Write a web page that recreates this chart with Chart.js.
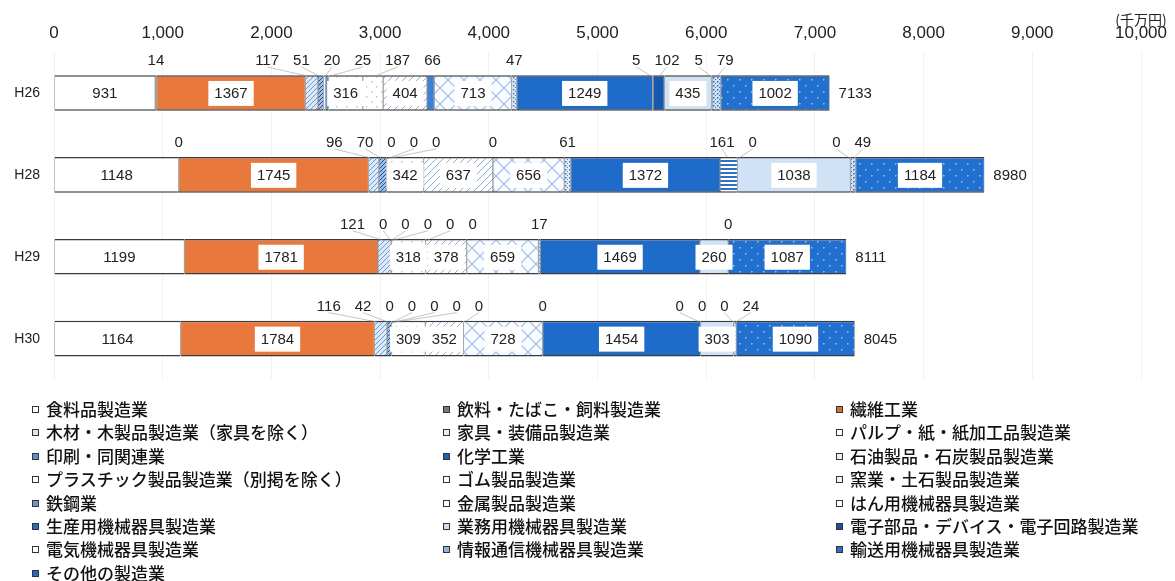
<!DOCTYPE html>
<html lang="ja">
<head>
<meta charset="utf-8">
<title>業種別 製造業</title>
<script src="https://cdn.jsdelivr.net/npm/chart.js@4.4.1/dist/chart.umd.min.js"></script>
<style>
  body { margin: 0; background: #fff; }
  #wrap { position: relative; width: 1175px; height: 581px; overflow: hidden; }
  #chartBox { position: absolute; left: 0; top: 0; width: 1175px; height: 402px; }
  #legend { position: absolute; left: 0; top: 397px; width: 1175px; height: 184px;
            font-family: "Noto Sans CJK JP", sans-serif; font-size: 17px; font-weight: 500; color: #111; }
  .item { position: absolute; white-space: nowrap; line-height: 24px; }
  .mark { display: inline-block; width: 5px; height: 5px; border: 1px solid #333;
          margin-right: 7px; vertical-align: 3px; }
</style>
</head>
<body>
<div id="wrap">
  <div id="chartBox"><canvas id="industryChart"></canvas></div>
  <div id="legend"></div>
</div>
<script>
// years (rows) and totals printed at the end of each bar
const years = ['H26', 'H28', 'H29', 'H30'];
const totals = [7133, 8980, 8111, 8045];

// industries, in stacking / legend order
const categories = [
    '食料品製造業', '飲料・たばこ・飼料製造業', '繊維工業',
    '木材・木製品製造業（家具を除く）', '家具・装備品製造業', 'パルプ・紙・紙加工品製造業',
    '印刷・同関連業', '化学工業', '石油製品・石炭製品製造業',
    'プラスチック製品製造業（別掲を除く）', 'ゴム製品製造業', '窯業・土石製品製造業',
    '鉄鋼業', '金属製品製造業', 'はん用機械器具製造業',
    '生産用機械器具製造業', '業務用機械器具製造業', '電子部品・デバイス・電子回路製造業',
    '電気機械器具製造業', '情報通信機械器具製造業', '輸送用機械器具製造業',
    'その他の製造業'
];

// values in 千万円, one entry per year (null = not shown)
const shokuryo = [931, 1148, 1199, 1164];
const inryo    = [14, 0, null, null];
const seni     = [1367, 1745, 1781, 1784];
const mokuzai  = [117, 96, 121, 116];
const kagu     = [51, 70, 0, 42];
const pulp     = [20, 0, 0, 0];
const insatsu  = [25, 0, 0, 0];
const kagaku   = [null, 0, null, 0];
const sekiyu   = [null, null, null, 0];
const plastic  = [316, 342, 318, 309];
const gomu     = [187, null, 0, null];
const yogyo    = [404, 637, 378, 352];
const tekko    = [66, 0, 0, 0];
const kinzoku  = [713, 656, 659, 728];
const hanyo    = [47, 61, 17, 0];
const seisan   = [1249, 1372, 1469, 1454];
const gyomu    = [5, 161, null, 0];
const denshi   = [102, 0, null, 0];
const denki    = [435, 1038, 260, 303];
const joho     = [5, 0, 0, 0];
const yuso     = [79, 49, null, 24];
const sonota   = [1002, 1184, 1087, 1090];

const series = [shokuryo, inryo, seni, mokuzai, kagu, pulp, insatsu, kagaku, sekiyu,
    plastic, gomu, yogyo, tekko, kinzoku, hanyo, seisan, gyomu, denshi, denki, joho, yuso, sonota];

const unitLabel = '(千万円)';

const canvas = document.getElementById('industryChart');
const ctx = canvas.getContext('2d');

// --- fill patterns ---
function makePattern(size, bg, drawFn) {
    const c = document.createElement('canvas');
    c.width = size; c.height = size;
    const p = c.getContext('2d');
    p.fillStyle = bg;
    p.fillRect(0, 0, size, size);
    drawFn(p, size);
    return ctx.createPattern(c, 'repeat');
}
function dots(bg, fg, size) {
    return makePattern(size, bg, (p, s) => {
        p.fillStyle = fg;
        p.fillRect(1, 1, 1.5, 1.5);
        p.fillRect(s / 2 + 1, s / 2 + 1, 1.5, 1.5);
    });
}
function diag(bg, fg, size) {
    return makePattern(size, bg, (p, s) => {
        p.strokeStyle = fg; p.lineWidth = 1;
        p.beginPath();
        p.moveTo(0, s); p.lineTo(s, 0);
        p.moveTo(-1, 1); p.lineTo(1, -1);
        p.moveTo(s - 1, s + 1); p.lineTo(s + 1, s - 1);
        p.stroke();
    });
}
function cross(bg, fg, size) {
    return makePattern(size, bg, (p, s) => {
        p.strokeStyle = fg; p.lineWidth = 1.2;
        p.beginPath();
        p.moveTo(0, 0); p.lineTo(s, s);
        p.moveTo(0, s); p.lineTo(s, 0);
        p.stroke();
    });
}
function stripes(bg, fg, size) {
    return makePattern(size, bg, (p, s) => {
        p.fillStyle = fg;
        p.fillRect(0, 0, s, s / 2);
    });
}

const fills = [
    '#ffffff',                          // 食料品
    '#8a8a8a',                          // 飲料
    '#e8783c',                          // 繊維
    diag('#dce9f8', '#6d9ad6', 5),      // 木材
    diag('#9fbfe6', '#1c4f9a', 4),      // 家具
    dots('#ffffff', '#9cbbe0', 6),      // パルプ
    '#4a86d0',                          // 印刷
    '#1d4f9c',                          // 化学
    stripes('#ffffff', '#5b8fd1', 4),   // 石油
    dots('#ffffff', '#b0c8e6', 10),     // プラスチック
    dots('#ffffff', '#b0c8e6', 10),     // ゴム
    diag('#ffffff', '#8eaed8', 7),      // 窯業
    '#3c7fd6',                          // 鉄鋼
    cross('#f8fbff', '#9dbce6', 16),    // 金属
    dots('#dfeaf7', '#4d7fc2', 4),      // はん用
    '#1f6bc9',                          // 生産用
    stripes('#ffffff', '#2d6fc9', 4),   // 業務用
    '#1658b0',                          // 電子部品
    '#cfe2f6',                          // 電気機械
    dots('#dbe8f7', '#3f78c4', 4),      // 情報通信
    dots('#cfe0f5', '#2e6fc6', 4),      // 輸送用
    dots('#2170cf', '#9fc3ee', 12)      // その他
];

const legendMarks = [
    '#fff', '#777', '#d2703c', '#dfe6ee', '#e9eef5', '#fff', '#5b8fd6', '#1f5fb8',
    '#e8eef6', '#fff', '#fff', '#eef2f7', '#6f93c4', '#fff', '#fff', '#2a6cc4',
    '#cfdff2', '#1c4fa0', '#fff', '#8fb2e0', '#2e6fc6', '#2a66bd'
];

const BAR_H = 38;

// spread small labels above a bar so they don't overlap
function dodge(items, gap) {
    items.sort((a, b) => a.want - b.want);
    const groups = items.map(it => ({ list: [it] }));
    const place = g => {
        const total = g.list.reduce((s, it) => s + it.w, 0) + gap * (g.list.length - 1);
        const mean = g.list.reduce((s, it) => s + it.want, 0) / g.list.length;
        g.start = mean - total / 2;
        g.end = g.start + total;
    };
    groups.forEach(place);
    let merged = true;
    while (merged) {
        merged = false;
        for (let k = 0; k < groups.length - 1; k++) {
            if (groups[k].end + gap > groups[k + 1].start) {
                groups[k].list = groups[k].list.concat(groups[k + 1].list);
                groups.splice(k + 1, 1);
                place(groups[k]);
                merged = true;
                break;
            }
        }
    }
    groups.forEach(g => {
        let x = g.start;
        g.list.forEach(it => { it.x = x + it.w / 2; x += it.w + gap; });
    });
}

const barLabels = {
    id: 'barLabels',
    afterDatasetsDraw(chart) {
        const c = chart.ctx;
        const xs = chart.scales.x, ys = chart.scales.y;
        c.save();
        c.font = '15px "Liberation Sans", Arial, sans-serif';
        c.textBaseline = 'middle';

        years.forEach((yr, i) => {
            const yc = ys.getPixelForValue(i);
            const top = yc - BAR_H / 2;
            const inside = [], above = [];
            let end = xs.getPixelForValue(0);
            chart.data.datasets.forEach((ds, d) => {
                const v = ds.data[i];
                if (v === null || v === undefined) return;
                const el = chart.getDatasetMeta(d).data[i];
                const x0 = Math.min(el.base, el.x), x1 = Math.max(el.base, el.x);
                end = Math.max(end, x1);
                const txt = String(v);
                const item = { txt, want: (x0 + x1) / 2, w: c.measureText(txt).width };
                if (v >= 250) inside.push(item); else above.push(item);
            });

            dodge(above, 14);
            c.strokeStyle = 'rgba(140,140,140,0.5)';
            c.lineWidth = 1;
            above.forEach(it => {
                if (Math.abs(it.x - it.want) > 6) {
                    c.beginPath();
                    c.moveTo(it.x, top - 7);
                    c.lineTo(it.want, top + 3);
                    c.stroke();
                }
            });

            c.textAlign = 'center';
            inside.forEach(it => {
                c.fillStyle = '#ffffff';
                c.fillRect(it.want - it.w / 2 - 6, yc - 12, it.w + 12, 25);
                c.fillStyle = '#222';
                c.fillText(it.txt, it.want, yc + 1);
            });
            c.fillStyle = '#222';
            above.forEach(it => c.fillText(it.txt, it.x, top - 13));

            c.textAlign = 'left';
            c.fillText(String(totals[i]), end + 9, yc + 1);
        });

        // unit label above the last tick
        c.font = '14px "Noto Sans CJK JP", sans-serif';
        c.textAlign = 'center';
        c.fillText(unitLabel, xs.getPixelForValue(10000), 20);
        c.restore();
    }
};

new Chart(ctx, {
    type: 'bar',
    data: {
        labels: years,
        datasets: categories.map((name, k) => ({
            label: name,
            data: series[k],
            backgroundColor: fills[k],
            borderColor: '#3b3b3b',
            borderWidth: { top: 1.5, bottom: 1.5, left: 0.6, right: 0.6 },
            borderSkipped: false,
            barPercentage: BAR_H / 87.5,
            categoryPercentage: 1
        }))
    },
    options: {
        indexAxis: 'y',
        responsive: true,
        maintainAspectRatio: false,
        animation: false,
        layout: { padding: { left: 0, right: 30, top: 0, bottom: 0 } },
        plugins: {
            legend: { display: false },
            tooltip: { enabled: false }
        },
        scales: {
            x: {
                position: 'top',
                stacked: true,
                min: 0,
                max: 10000,
                afterFit: s => { s.height = 52; },
                border: { display: false },
                grid: { color: 'rgba(0,0,0,0.05)', drawTicks: false },
                ticks: {
                    stepSize: 1000,
                    padding: 8,
                    color: '#222',
                    font: { size: 17, family: '"Liberation Sans", Arial, sans-serif' },
                    callback: v => Number(v).toLocaleString('en-US')
                }
            },
            y: {
                stacked: true,
                afterFit: s => { s.width = 54; },
                border: { display: false },
                grid: { display: false, drawTicks: false },
                ticks: {
                    padding: 14,
                    color: '#222',
                    font: { size: 14, family: '"Liberation Sans", Arial, sans-serif' }
                }
            }
        }
    },
    plugins: [barLabels]
});

// legend: three columns, row-major
const legend = document.getElementById('legend');
const colX = [32, 443, 836];
categories.forEach((name, k) => {
    const row = Math.floor(k / 3), col = k % 3;
    const div = document.createElement('div');
    div.className = 'item';
    div.style.left = colX[col] + 'px';
    div.style.top = (row * 23.4) + 'px';
    const mark = document.createElement('span');
    mark.className = 'mark';
    mark.style.background = legendMarks[k];
    div.appendChild(mark);
    div.appendChild(document.createTextNode(name));
    legend.appendChild(div);
});
</script>
</body>
</html>
